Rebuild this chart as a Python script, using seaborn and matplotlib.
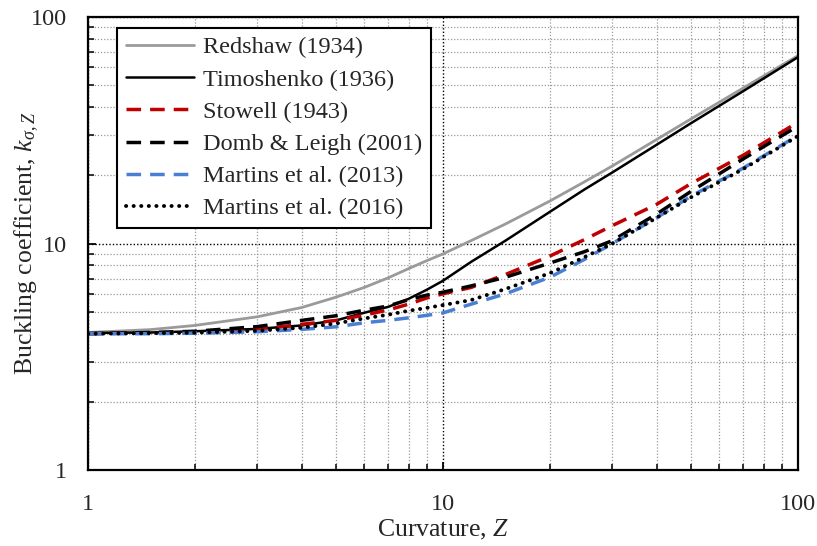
import numpy as np
import pandas as pd
import matplotlib
matplotlib.use("Agg")
import matplotlib.pyplot as plt
import seaborn as sns
from matplotlib.ticker import LogLocator, NullFormatter, FixedLocator, FixedFormatter

# Curvature parameter values at which the buckling coefficients are tabulated
Z = [1, 1.5, 2, 3, 4, 5, 6, 7, 8, 9, 10, 12, 15, 20, 25, 30, 40, 50, 70, 100]

redshaw_1934 = [4.05, 4.17, 4.35, 4.75, 5.22, 5.8, 6.4, 7.05, 7.75, 8.4, 9.0,
                10.3, 12.2, 15.4, 18.7, 22.0, 28.8, 35.5, 48.5, 67.5]
timoshenko_1936 = [4.03, 4.05, 4.1, 4.2, 4.35, 4.58, 4.95, 5.25, 5.7, 6.25, 6.85,
                   8.3, 10.3, 13.8, 17.3, 20.6, 27.3, 34.0, 47.0, 66.5]
stowell_1943 = [4.0, 4.03, 4.07, 4.18, 4.4, 4.58, 4.83, 5.09, 5.4, 5.75, 6.0,
                6.4, 7.3, 8.8, 10.4, 12.0, 14.9, 18.4, 24.5, 34.3]
domb_leigh_2001 = [4.0, 4.05, 4.1, 4.3, 4.58, 4.8, 5.08, 5.3, 5.65, 5.92, 6.1,
                   6.5, 7.1, 8.2, 9.2, 10.3, 13.5, 17.0, 23.6, 33.0]
martins_2013 = [4.0, 4.0, 4.02, 4.08, 4.18, 4.29, 4.47, 4.58, 4.7, 4.82, 4.94,
                5.4, 6.0, 7.1, 8.5, 10.0, 13.0, 16.2, 21.5, 30.0]
martins_2016 = [4.0, 4.02, 4.04, 4.12, 4.25, 4.44, 4.67, 4.85, 5.05, 5.2, 5.35,
                5.63, 6.3, 7.4, 8.7, 10.0, 13.0, 16.0, 21.3, 29.8]

labels = ["Redshaw (1934)", "Timoshenko (1936)", "Stowell (1943)",
          "Domb & Leigh (2001)", "Martins et al. (2013)", "Martins et al. (2016)"]
series = [redshaw_1934, timoshenko_1936, stowell_1943,
          domb_leigh_2001, martins_2013, martins_2016]

tick_values = [1, 10, 100]
tick_labels = ["1", "10", "100"]

styles = [
    dict(color="#9a9a9a", lw=2.0, linestyle="-"),
    dict(color="black", lw=1.8, linestyle="-"),
    dict(color="#c00000", lw=2.5, linestyle=(0, (4.2, 2.6))),
    dict(color="black", lw=2.5, linestyle=(0, (4.2, 2.6))),
    dict(color="#4a7fd4", lw=2.5, linestyle=(0, (4.2, 2.6))),
    dict(color="black", lw=2.8, linestyle=(0, (0.05, 1.9)), dash_capstyle="round"),
]

sns.set_style("ticks")
plt.rcParams["font.family"] = ["Liberation Serif", "DejaVu Serif"]
plt.rcParams["mathtext.fontset"] = "custom"
plt.rcParams["mathtext.rm"] = "Liberation Serif"
plt.rcParams["mathtext.it"] = "Liberation Serif:italic"

fig = plt.figure(figsize=(8.17, 5.46), dpi=100)
ax = fig.add_axes([0.1077, 0.139, 0.869, 0.8299])

for vals, lab, st in zip(series, labels, styles):
    df = pd.DataFrame({"Z": Z, "k": vals})
    sns.lineplot(data=df, x="Z", y="k", ax=ax, label=lab, **st)

ax.set_xscale("log")
ax.set_yscale("log")
ax.set_xlim(1, 100)
ax.set_ylim(1, 100)

for axis in (ax.xaxis, ax.yaxis):
    axis.set_major_locator(FixedLocator(tick_values))
    axis.set_major_formatter(FixedFormatter(tick_labels))
    axis.set_minor_locator(LogLocator(base=10, subs=np.arange(2, 10), numticks=20))
    axis.set_minor_formatter(NullFormatter())

ax.grid(which="major", color="black", linestyle=(0, (1, 1.5)), linewidth=1.0)
ax.grid(which="minor", color="#9a9a9a", linestyle=(0, (1, 1.5)), linewidth=0.9)
ax.set_axisbelow(True)

ax.tick_params(which="both", direction="in", top=False, right=False,
               labelsize=17.5, color="black")
ax.tick_params(axis="x", which="major", length=6, width=1.3, pad=17)
ax.tick_params(axis="y", which="major", length=6, width=1.3, pad=15)
ax.tick_params(which="minor", length=4, width=1.1)

for sp in ax.spines.values():
    sp.set_visible(True)
    sp.set_color("black")
    sp.set_linewidth(1.6)

ax.set_xlabel("Curvature, $Z$", fontsize=18.5)
ax.xaxis.set_label_coords(0.5, -0.105)
ax.set_ylabel("Buckling coefficient, $k_{σ,Z}$", fontsize=18.5)
ax.yaxis.set_label_coords(-0.066, 0.5)

leg = ax.legend(loc="upper left", bbox_to_anchor=(0.041, 0.976), borderaxespad=0,
                fontsize=17.5, frameon=True, fancybox=False, framealpha=1,
                edgecolor="black", handlelength=2.8, labelspacing=0.42,
                borderpad=0.35, handletextpad=0.4)
leg.get_frame().set_linewidth(1.5)

fig.savefig("out.png", dpi=100)
